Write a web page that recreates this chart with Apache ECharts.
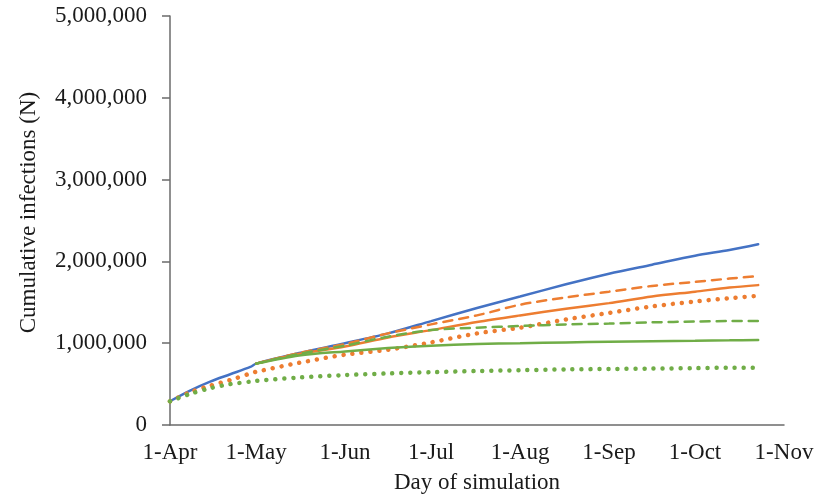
<!DOCTYPE html>
<html>
<head>
<meta charset="utf-8">
<script src="https://cdn.jsdelivr.net/npm/echarts@6/dist/echarts.min.js"></script>
<style>
  html, body { margin: 0; padding: 0; background: #ffffff; }
  #chart { width: 833px; height: 499px; }
</style>
</head>
<body>
<div id="chart"></div>
<script>
// Day of simulation (0 = 1-Apr)
const days = [0, 7, 14, 21, 28, 30, 45, 61, 76, 91, 107, 122, 138, 153, 168, 183, 195, 205];
const branchDays = [30, 45, 61, 76, 91, 107, 122, 138, 153, 168, 183, 195, 205];

// Tick labels on the x axis (day index -> label)
const tickDays = [0, 30, 61, 91, 122, 153, 183, 214];
const tickLabels = ['1-Apr', '1-May', '1-Jun', '1-Jul', '1-Aug', '1-Sep', '1-Oct', '1-Nov'];

// Series values (cumulative infections)
const blueSolid = [290000, 420000, 530000, 620000, 710000, 750000, 880000, 1000000, 1120000, 1270000, 1430000, 1570000, 1720000, 1850000, 1960000, 2070000, 2140000, 2210000];
const orangeDotted = [290000, 400000, 480000, 550000, 630000, 650000, 760000, 860000, 920000, 1010000, 1120000, 1190000, 1290000, 1370000, 1450000, 1510000, 1550000, 1580000];
const greenDotted = [290000, 380000, 450000, 500000, 530000, 540000, 580000, 610000, 630000, 645000, 660000, 670000, 680000, 685000, 690000, 695000, 700000, 700000];
const orangeDashed = [750000, 880000, 990000, 1120000, 1230000, 1340000, 1470000, 1560000, 1630000, 1700000, 1750000, 1790000, 1820000];
const orangeSolid = [750000, 870000, 960000, 1070000, 1160000, 1260000, 1340000, 1420000, 1490000, 1570000, 1630000, 1680000, 1710000];
const greenDashed = [750000, 870000, 970000, 1080000, 1160000, 1190000, 1210000, 1230000, 1240000, 1255000, 1265000, 1270000, 1270000];
const greenSolid = [750000, 850000, 900000, 940000, 970000, 990000, 1000000, 1010000, 1018000, 1025000, 1030000, 1035000, 1040000];

// Y-axis ticks
const yMin = 0, yMax = 5000000, yStep = 1000000;

const BLUE = '#4472C4', ORANGE = '#ED7D31', GREEN = '#70AD47';
const FONT = 'Liberation Serif';
const TEXT = '#1a1a1a';

function pairs(xs, ys) { return xs.map((x, i) => [x, ys[i]]); }
const labelMap = {};
tickDays.forEach((d, i) => { labelMap[d] = tickLabels[i]; });

function line(name, xs, ys, color, type, width) {
  return {
    name: name, type: 'line', data: pairs(xs, ys),
    showSymbol: false, symbol: 'none', smooth: 0.3,
    lineStyle: { color: color, width: width, type: type, cap: 'round' },
    emphasis: { disabled: true }, silent: true, animation: false
  };
}

const chart = echarts.init(document.getElementById('chart'), null, { renderer: 'canvas' });
chart.setOption({
  backgroundColor: '#ffffff',
  animation: false,
  grid: { left: 170, right: 49, top: 16, bottom: 73 },
  xAxis: {
    type: 'value', min: 0, max: 214,
    name: 'Day of simulation', nameLocation: 'middle', nameGap: 46,
    nameTextStyle: { fontFamily: FONT, fontSize: 23, color: TEXT },
    axisLine: { show: true, onZero: false, lineStyle: { color: '#6b6b6b', width: 1.5 } },
    axisTick: { show: false },
    splitLine: { show: false },
    axisLabel: {
      customValues: tickDays, margin: 16, showMinLabel: true, showMaxLabel: true, hideOverlap: false,
      fontFamily: FONT, fontSize: 23, color: TEXT,
      formatter: v => labelMap[v] !== undefined ? labelMap[v] : ''
    }
  },
  yAxis: {
    type: 'value', min: yMin, max: yMax, interval: yStep,
    name: 'Cumulative infections (N)', nameLocation: 'middle', nameGap: 130,
    nameTextStyle: { fontFamily: FONT, fontSize: 23, color: TEXT, padding: [0, 0, 0, 16] },
    axisLine: { show: true, lineStyle: { color: '#6b6b6b', width: 1.5 } },
    axisTick: { show: true, length: 8, lineStyle: { color: '#6b6b6b', width: 1.5 } },
    splitLine: { show: false },
    axisLabel: {
      margin: 23, fontFamily: FONT, fontSize: 23, color: TEXT,
      formatter: v => v.toLocaleString('en-US')
    }
  },
  series: [
    line('Blue', days, blueSolid, BLUE, 'solid', 2.5),
    line('Orange dotted', days, orangeDotted, ORANGE, [0.01, 9], 4.5),
    line('Green dotted', days, greenDotted, GREEN, [0.01, 9], 4.5),
    line('Orange dashed', branchDays, orangeDashed, ORANGE, [9, 7], 2.5),
    line('Orange solid', branchDays, orangeSolid, ORANGE, 'solid', 2.5),
    line('Green dashed', branchDays, greenDashed, GREEN, [9, 7], 2.5),
    line('Green solid', branchDays, greenSolid, GREEN, 'solid', 2.5)
  ]
});
</script>
</body>
</html>
